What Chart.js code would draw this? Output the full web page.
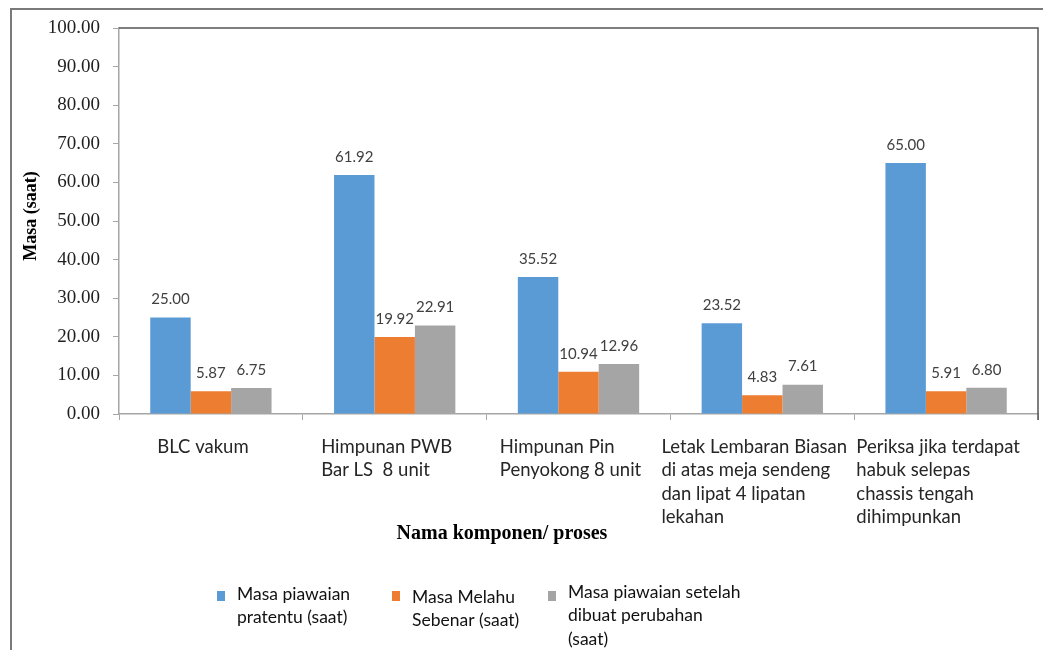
<!DOCTYPE html>
<html><head><meta charset="utf-8">
<script src="https://cdn.jsdelivr.net/npm/chart.js@4.4.1/dist/chart.umd.min.js"></script>
<style>html,body{margin:0;padding:0;background:#fff;overflow:hidden}</style>
</head><body>
<canvas id="c" width="1043" height="650" style="display:block;width:1043px;height:650px"></canvas>
<script>
const categories = [
  ["BLC vakum"],
  ["Himpunan PWB", "Bar LS  8 unit"],
  ["Himpunan Pin", "Penyokong 8 unit"],
  ["Letak Lembaran Biasan", "di atas meja sendeng", "dan lipat 4 lipatan", "lekahan"],
  ["Periksa jika terdapat", "habuk selepas", "chassis tengah", "dihimpunkan"]
];
const seriesNames = [
  ["Masa piawaian", "pratentu (saat)"],
  ["Masa Melahu", "Sebenar (saat)"],
  ["Masa piawaian setelah", "dibuat perubahan", "(saat)"]
];
const masaPiawaian = [25.00, 61.92, 35.52, 23.52, 65.00];
const masaMelahu   = [5.87, 19.92, 10.94, 4.83, 5.91];
const masaSetelah  = [6.75, 22.91, 12.96, 7.61, 6.80];
const yTicks = [0, 10, 20, 30, 40, 50, 60, 70, 80, 90, 100];
const seriesColors = ["#5B9BD5", "#ED7D31", "#A5A5A5"];
const yTitle = "Masa (saat)";
const xTitle = "Nama komponen/ proses";

const labelFont = "Lato, 'Open Sans', sans-serif";
const serif = "'Liberation Serif', 'DejaVu Serif', serif";

const framePlugin = {
  id: 'frame',
  beforeDraw(chart) {
    const ctx = chart.ctx;
    ctx.save();
    ctx.fillStyle = '#fff';
    ctx.fillRect(0, 0, chart.width, chart.height);
    ctx.strokeStyle = '#7a7a7a';
    ctx.lineWidth = 2;
    ctx.beginPath();
    ctx.moveTo(11, chart.height);
    ctx.lineTo(11, 9);
    ctx.lineTo(chart.width, 9);
    ctx.stroke();
    ctx.restore();
  },
  afterDraw(chart) {
    const ctx = chart.ctx, a = chart.chartArea;
    ctx.save();
    ctx.strokeStyle = '#555';
    ctx.lineWidth = 1.5;
    ctx.beginPath();
    ctx.moveTo(a.left, a.top);
    ctx.lineTo(a.right, a.top);
    ctx.lineTo(a.right, a.bottom + 6);
    ctx.stroke();

    // data labels
    ctx.font = "15px " + labelFont;
    ctx.fillStyle = '#404040';
    ctx.textAlign = 'center';
    ctx.textBaseline = 'middle';
    chart.data.datasets.forEach((ds, di) => {
      const meta = chart.getDatasetMeta(di);
      meta.data.forEach((bar, i) => {
        ctx.fillText(ds.data[i].toFixed(2), bar.x, bar.y - 18);
      });
    });

    // category labels
    const xs = chart.scales.x;
    ctx.font = "18.5px " + labelFont;
    ctx.fillStyle = '#262626';
    ctx.textAlign = 'left';
    categories.forEach((lines, i) => {
      const cx = xs.getPixelForValue(i);
      const w = Math.max(...lines.map(l => ctx.measureText(l).width));
      let x0 = cx - w / 2 - 8;
      x0 = Math.min(x0, a.right - w);
      lines.forEach((l, k) => ctx.fillText(l, x0, a.bottom + 33 + k * 23.5));
    });

    // axis titles
    ctx.fillStyle = '#000';
    ctx.textAlign = 'center';
    ctx.font = "bold 20px " + serif;
    ctx.fillText(xTitle, 502, a.bottom + 120);
    ctx.save();
    ctx.translate(31, (a.top + a.bottom) / 2 - 5);
    ctx.rotate(-Math.PI / 2);
    ctx.font = "bold 18px " + serif;
    ctx.fillText(yTitle, 0, 0);
    ctx.restore();

    // legend
    const legX = [217, 392, 548];
    const legY = [594, 597, 592];
    ctx.font = "17.5px " + labelFont;
    ctx.textAlign = 'left';
    seriesNames.forEach((lines, i) => {
      ctx.fillStyle = seriesColors[i];
      ctx.fillRect(legX[i], 591, 8, 10);
      ctx.fillStyle = '#111';
      lines.forEach((l, k) => ctx.fillText(l, legX[i] + 20, legY[i] + k * 23.5));
    });
    ctx.restore();
  }
};

new Chart(document.getElementById('c'), {
  type: 'bar',
  data: {
    labels: categories.map(c => c.join(' ')),
    datasets: [
      { label: seriesNames[0].join(' '), data: masaPiawaian, backgroundColor: seriesColors[0] },
      { label: seriesNames[1].join(' '), data: masaMelahu, backgroundColor: seriesColors[1] },
      { label: seriesNames[2].join(' '), data: masaSetelah, backgroundColor: seriesColors[2] }
    ]
  },
  options: {
    responsive: false,
    animation: false,
    devicePixelRatio: 1,
    layout: { padding: { top: 28, right: 5, left: 0, bottom: 0 } },
    datasets: { bar: { categoryPercentage: 0.66, barPercentage: 1.0 } },
    plugins: { legend: { display: false }, tooltip: { enabled: false } },
    scales: {
      x: {
        grid: { display: true, drawOnChartArea: false, drawTicks: true, tickLength: 6, color: '#a6a6a6', offset: true },
        border: { display: true, color: '#a6a6a6', width: 1.5 },
        ticks: { display: false },
        afterFit(s) { s.height = 236; }
      },
      y: {
        min: 0, max: 100,
        afterBuildTicks(s) { s.ticks = yTicks.map(v => ({ value: v })); },
        grid: { display: true, drawOnChartArea: false, drawTicks: true, tickLength: 6, color: '#a6a6a6' },
        border: { display: true, color: '#a6a6a6', width: 1.5 },
        ticks: {
          padding: 13,
          color: '#1f1f1f',
          font: { family: serif, size: 19 },
          callback: v => Number(v).toFixed(2)
        },
        afterFit(s) { s.width = 119; }
      }
    }
  },
  plugins: [framePlugin]
});
</script>
</body></html>
